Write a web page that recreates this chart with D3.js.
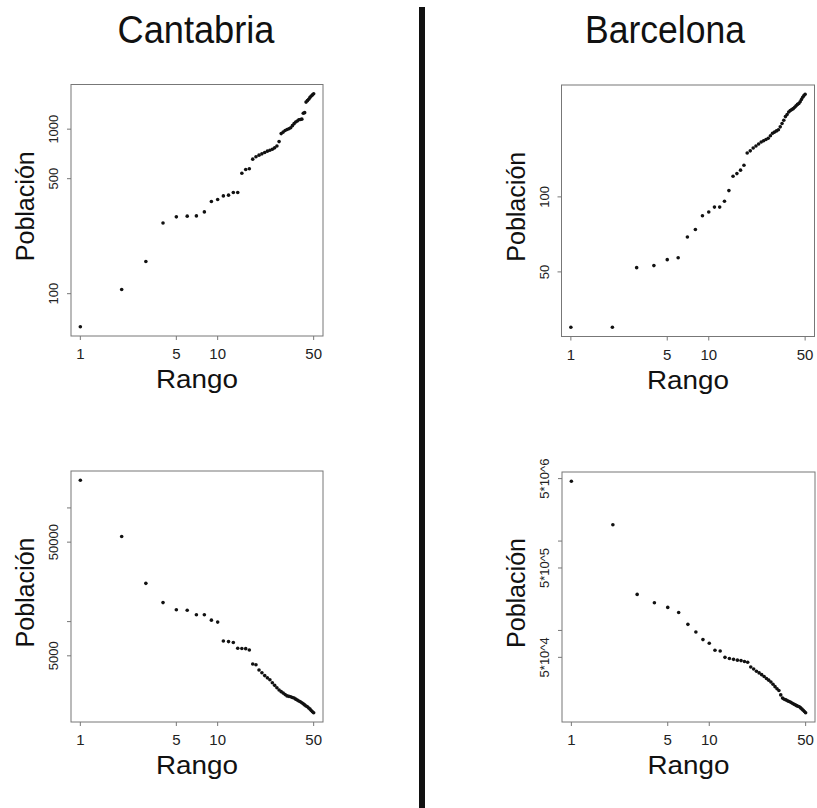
<!DOCTYPE html>
<html>
<head>
<meta charset="utf-8">
<script src="https://cdn.jsdelivr.net/npm/d3@7"></script>
<style>
  body { margin: 0; background: #fff; }
  svg { display: block; }
  text { font-family: "Liberation Sans", Arial, Helvetica, sans-serif; fill: #111; }
</style>
</head>
<body>
<div id="chart"></div>
<script>
// rank of each municipality (x axis)
const rango = d3.range(1, 51);

// Cantabria, 50 smallest municipalities (increasing)
const cantabriaMenores = [
  63, 106, 157, 269, 293, 296, 297, 314, 363, 374,
  393, 397, 412, 412, 539, 568, 574, 657, 680, 695,
  708, 722, 735, 745, 755, 770, 790, 840, 940, 960,
  982, 995, 1005, 1020, 1050, 1080, 1105, 1120, 1140, 1145,
  1150, 1250, 1260, 1460, 1490, 1520, 1560, 1590, 1615, 1640
];

// Barcelona, 50 smallest municipalities (increasing)
const barcelonaMenores = [
  30, 30, 52, 53, 56, 57, 69, 74, 84, 87,
  91, 91, 96, 106, 121, 124, 128, 134, 150, 153,
  157, 160, 163, 166, 168, 170, 172, 176, 180, 182,
  184, 186, 191, 197, 203, 210, 214, 219, 222, 224,
  226, 229, 232, 235, 237, 241, 246, 251, 255, 258
];

// Cantabria, 50 largest municipalities (decreasing)
const cantabriaMayores = [
  175000, 56000, 21700, 14700, 12700, 12600, 11500, 11500, 10300, 9900,
  6750, 6670, 6540, 5830, 5800, 5780, 5630, 4240, 4170, 3750,
  3550, 3350, 3200, 3080, 2900, 2750, 2620, 2500, 2420, 2350,
  2280, 2220, 2200, 2180, 2150, 2130, 2080, 2040, 2000, 1970,
  1930, 1890, 1850, 1810, 1780, 1740, 1700, 1650, 1610, 1580
];

// Barcelona, 50 largest municipalities (decreasing)
const barcelonaMayores = [
  4670000, 1520000, 253000, 204000, 181000, 159000, 117000, 96000, 79000, 72000,
  60000, 59000, 50000, 48500, 47500, 46500, 46000, 45000, 44000, 39000,
  37000, 35000, 33500, 32000, 30500, 29000, 27800, 26500, 25000, 23500,
  22300, 21300, 19000, 17500, 17000, 16700, 16300, 16000, 15700, 15300,
  15000, 14700, 14400, 14200, 14000, 13600, 13200, 12800, 12400, 12000
];

const titulos = ["Cantabria", "Barcelona"];

const xTicks = [1, 5, 10, 50];
const xTickLabels = ["1", "5", "10", "50"];

// y ticks per panel; empty label = tick without text
const yTicksCM = [100, 500, 1000];
const yLabelsCM = ["100", "500", "1000"];
const yTicksBM = [50, 100];
const yLabelsBM = ["50", "100"];
const yTicksCX = [5000, 10000, 50000, 100000];
const yLabelsCX = ["5000", "", "50000", ""];
const yTicksBX = [50000, 100000, 500000, 1000000, 5000000];
const yLabelsBX = ["5*10^4", "", "5*10^5", "", "5*10^6"];

const width = 817, height = 808;

const svg = d3.select("#chart").append("svg")
  .attr("width", width)
  .attr("height", height);

svg.append("rect")
  .attr("width", width)
  .attr("height", height)
  .attr("fill", "#fff");

// R-style log scale: data extent plus 4% on each side
function logScale(values, range) {
  const ext = d3.extent(values).map(Math.log10);
  const pad = (ext[1] - ext[0]) * 0.04;
  return d3.scaleLog()
    .domain([Math.pow(10, ext[0] - pad), Math.pow(10, ext[1] + pad)])
    .range(range);
}

function drawPanel(p) {
  const g = svg.append("g");
  const bottom = p.top + p.h, right = p.left + p.w;

  const x = logScale(rango, [p.left, right]);
  const y = logScale(p.values, [bottom, p.top]);

  // box
  g.append("rect")
    .attr("x", p.left)
    .attr("y", p.top)
    .attr("width", p.w)
    .attr("height", p.h)
    .attr("fill", "none")
    .attr("stroke", "#777")
    .attr("stroke-width", 1);

  // x ticks
  g.selectAll(".xtick")
    .data(xTicks)
    .enter()
    .append("line")
    .attr("x1", d => x(d))
    .attr("x2", d => x(d))
    .attr("y1", bottom)
    .attr("y2", bottom + 4)
    .attr("stroke", "#777");

  g.selectAll(".xlabel")
    .data(xTicks)
    .enter()
    .append("text")
    .attr("x", d => x(d))
    .attr("y", bottom + 23)
    .attr("text-anchor", "middle")
    .style("font-size", "15px")
    .style("fill", "#222")
    .text((d, i) => xTickLabels[i]);

  // y ticks
  g.selectAll(".ytick")
    .data(p.yTicks)
    .enter()
    .append("line")
    .attr("x1", p.left - 4)
    .attr("x2", p.left)
    .attr("y1", d => y(d))
    .attr("y2", d => y(d))
    .attr("stroke", "#777");

  g.selectAll(".ylabel")
    .data(p.yTicks.filter((d, i) => p.yLabels[i] !== ""))
    .enter()
    .append("text")
    .attr("transform", d => `translate(${p.left - 13},${y(d)}) rotate(-90)`)
    .attr("text-anchor", "middle")
    .style("font-size", "13px")
    .style("fill", "#222")
    .text(d => p.yLabels[p.yTicks.indexOf(d)]);

  // points
  g.selectAll(".pt")
    .data(p.values)
    .enter()
    .append("circle")
    .attr("cx", (d, i) => x(rango[i]))
    .attr("cy", d => y(d))
    .attr("r", 1.8)
    .attr("fill", "#111");

  // axis titles
  g.append("text")
    .attr("x", p.left + p.w / 2)
    .attr("y", bottom + 52)
    .attr("text-anchor", "middle")
    .attr("textLength", 82)
    .attr("lengthAdjust", "spacingAndGlyphs")
    .style("font-size", "26px")
    .text("Rango");

  g.append("text")
    .attr("transform", `translate(${p.left - 37},${p.top + p.h / 2 - 4}) rotate(-90)`)
    .attr("text-anchor", "middle")
    .attr("textLength", 110)
    .attr("lengthAdjust", "spacingAndGlyphs")
    .style("font-size", "26px")
    .text("Población");
}

const panels = [
  { left: 71, top: 84.5, w: 252, h: 251.5, values: cantabriaMenores, yTicks: yTicksCM, yLabels: yLabelsCM },
  { left: 561.5, top: 85, w: 253, h: 251.5, values: barcelonaMenores, yTicks: yTicksBM, yLabels: yLabelsBM },
  { left: 71, top: 471, w: 252, h: 251, values: cantabriaMayores, yTicks: yTicksCX, yLabels: yLabelsCX },
  { left: 562, top: 472, w: 253, h: 250, values: barcelonaMayores, yTicks: yTicksBX, yLabels: yLabelsBX }
];

panels.forEach(drawPanel);

// column titles
svg.selectAll(".titulo")
  .data(titulos)
  .enter()
  .append("text")
  .attr("x", (d, i) => [196, 665][i])
  .attr("y", 43)
  .attr("text-anchor", "middle")
  .attr("textLength", (d, i) => [157, 160][i])
  .attr("lengthAdjust", "spacingAndGlyphs")
  .style("font-size", "38px")
  .text(d => d);

// divider between the two columns
svg.append("line")
  .attr("x1", 422)
  .attr("x2", 422)
  .attr("y1", 7)
  .attr("y2", 808)
  .attr("stroke", "#111")
  .attr("stroke-width", 6);
</script>
</body>
</html>
